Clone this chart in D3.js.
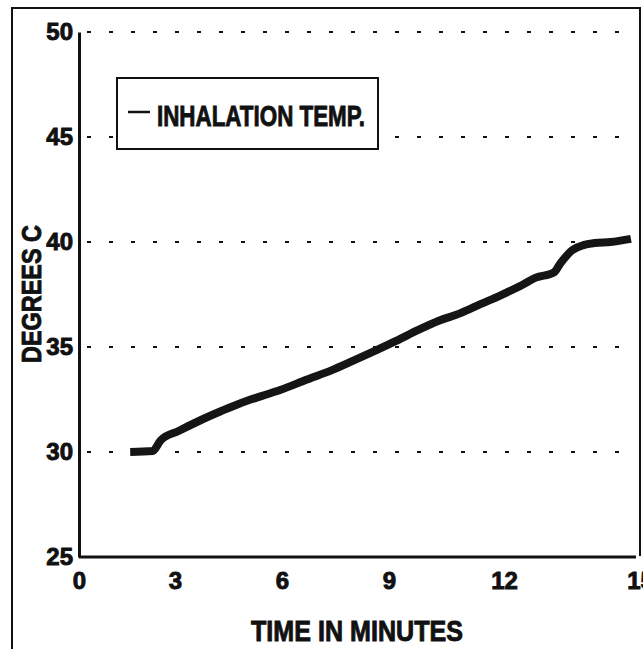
<!DOCTYPE html>
<html>
<head>
<meta charset="utf-8">
<script src="https://cdn.jsdelivr.net/npm/d3@7"></script>
<style>
  body { margin: 0; background: #fff; }
  svg { display: block; }
  text { font-family: "Liberation Sans", Arial, sans-serif; font-weight: bold; fill: #111; stroke: #111; stroke-width: 0.9px; }
  .narrow { font-family: "Liberation Sans Narrow", "Liberation Sans", Arial, sans-serif; }
  .grid { stroke: #111; stroke-width: 2; stroke-dasharray: 4 18; }
</style>
</head>
<body>
<div id="chart"></div>
<script>
//Data
let minutes = [1.6, 2.3, 2.55, 3.1, 3.7, 4.3, 4.8, 5.4, 5.95, 6.7, 7.4, 8.0, 8.65, 9.2, 9.75, 10.3, 10.85, 11.4, 11.9, 12.4, 12.7, 13.1, 13.25, 13.5, 13.75, 14.0, 14.35, 14.8];
let degrees = [30.0, 30.05, 30.55, 31.0, 31.5, 31.95, 32.3, 32.65, 32.95, 33.45, 33.9, 34.35, 34.85, 35.3, 35.8, 36.25, 36.6, 37.05, 37.45, 37.95, 38.3, 38.55, 39.0, 39.6, 39.85, 39.95, 40.0, 40.15];
let xTicks = [0, 3, 6, 9, 12, 15];
let yTicks = [25, 30, 35, 40, 45, 50];
let gridValues = [30, 35, 40, 45, 50];
let seriesName = "INHALATION TEMP.";
let xTitle = "TIME IN MINUTES";
let yTitle = "DEGREES C";

//Variables
let width = 643, height = 649;
let plot = {left: 79, right: 636, top: 32, bottom: 557};

let svg = d3.select("#chart")
  .append("svg")
  .attr("width", width)
  .attr("height", height);

//The scan's tick labels are not evenly spaced, so x is piecewise linear through them
let x = d3.scaleLinear()
  .domain(xTicks)
  .range([plot.left, 175, 282, 389, 504, 640]);

let y = d3.scaleLinear()
  .domain([25, 50])
  .range([plot.bottom, plot.top]);

//Outer frame (open at the bottom, like the scan)
svg.append("path")
  .attr("d", "M12,649 L12,8 L640,8 L640,556")
  .attr("fill", "none")
  .attr("stroke", "#111")
  .attr("stroke-width", 2);

//Dotted gridlines
svg.selectAll(".grid")
  .data(gridValues)
  .enter().append("line")
    .attr("class", "grid")
    .attr("x1", plot.left + 8)
    .attr("x2", plot.right)
    .attr("y1", d => y(d))
    .attr("y2", d => y(d));

//Axes
let yAxis = svg.append("g")
  .attr("transform", "translate(" + plot.left + ",0)")
  .call(d3.axisLeft(y).tickValues(yTicks).tickSize(0).tickSizeOuter(0).tickPadding(6));

let xAxis = svg.append("g")
  .attr("transform", "translate(0," + plot.bottom + ")")
  .call(d3.axisBottom(x).tickValues(xTicks).tickSize(0).tickSizeOuter(0).tickPadding(15));

[xAxis, yAxis].forEach(a => {
  a.select(".domain").attr("stroke", "#111").attr("stroke-width", 3);
  a.selectAll("text").style("font-size", "24px").attr("fill", "#111")
    .style("font-family", "'Liberation Sans', Arial, sans-serif").style("font-weight", "bold");
});
//x axis line only spans the plot, not the stretched 15 label
xAxis.select(".domain").attr("d", "M" + plot.left + ",0H" + plot.right);

//Axis titles
svg.append("text")
  .attr("class", "narrow")
  .attr("x", 357)
  .attr("y", 641)
  .attr("text-anchor", "middle")
  .attr("textLength", 212)
  .attr("lengthAdjust", "spacingAndGlyphs")
  .style("font-size", "29px")
  .text(xTitle);

svg.append("text")
  .attr("class", "narrow")
  .attr("transform", "translate(41,294) rotate(-90)")
  .attr("text-anchor", "middle")
  .attr("textLength", 138)
  .attr("lengthAdjust", "spacingAndGlyphs")
  .style("font-size", "28px")
  .text(yTitle);

//Legend
let legend = svg.append("g");
legend.append("rect")
  .attr("x", 117).attr("y", 78)
  .attr("width", 261).attr("height", 71)
  .attr("fill", "#fff")
  .attr("stroke", "#111")
  .attr("stroke-width", 2);
legend.append("line")
  .attr("x1", 128).attr("x2", 150)
  .attr("y1", 112).attr("y2", 112)
  .attr("stroke", "#111")
  .attr("stroke-width", 2.5);
legend.append("text")
  .attr("class", "narrow")
  .attr("x", 157)
  .attr("y", 126)
  .attr("textLength", 208)
  .attr("lengthAdjust", "spacingAndGlyphs")
  .style("font-size", "30px")
  .text(seriesName);

//Temperature trace
let points = minutes.map((m, i) => [m, degrees[i]]);
let line = d3.line()
  .x(d => x(d[0]))
  .y(d => y(d[1]))
  .curve(d3.curveMonotoneX);

svg.append("path")
  .datum(points)
  .attr("fill", "none")
  .attr("stroke", "#151515")
  .attr("stroke-width", 8)
  .attr("stroke-linecap", "butt")
  .attr("stroke-linejoin", "round")
  .attr("d", line);
</script>
</body>
</html>
